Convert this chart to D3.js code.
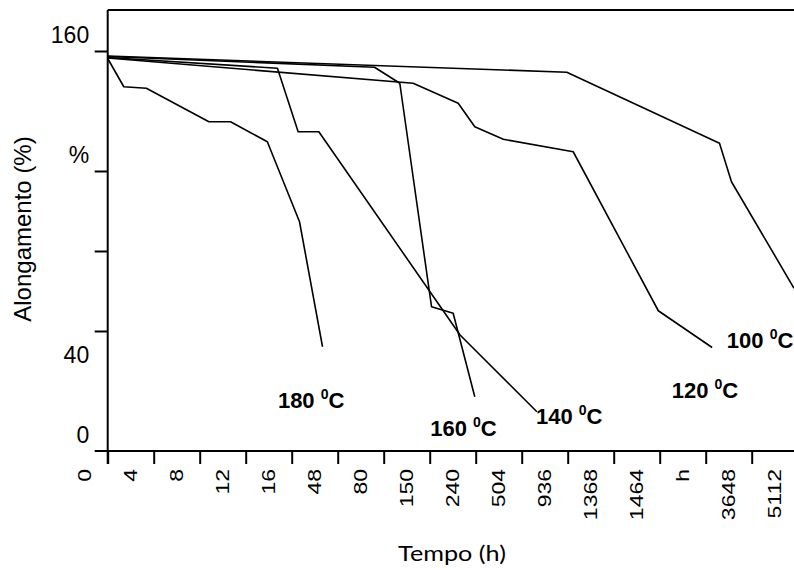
<!DOCTYPE html>
<html>
<head>
<meta charset="utf-8">
<script src="https://cdn.jsdelivr.net/npm/d3@7/dist/d3.min.js"></script>
<style>
body { margin: 0; background: #fff; }
svg { display: block; font-family: "Liberation Sans", Arial, sans-serif; }
</style>
</head>
<body>
<svg id="chart"></svg>
<script>
var width = 794, height = 570;

// categorias do eixo x (tempo, h)
var tempoLabels = ["0", "4", "8", "12", "16", "48", "80", "150", "240", "504", "936", "1368", "1464", "h", "3648", "5112"];

// rotulos do eixo y (como aparecem na figura) e sua posicao em unidades do eixo
var yLabels = ["160", "%", "40", "0"];
var yLabelPos = [166.5, 118.7, 38.5, 6.5];
var yTicks = [48, 80, 112, 160];

// curvas: posicao no eixo de categorias (0 = eixo y) e alongamento
var t180 = [0, 0.35, 0.84, 2.2, 2.67, 3.47, 4.17, 4.67];
var v180 = [157, 145.7, 145.1, 131.7, 131.7, 123.7, 91.7, 41.7];

var t160 = [0, 5.8, 6.35, 7.04, 7.51, 7.98];
var v160 = [157.8, 153.5, 147.1, 57.7, 55.1, 21.7];

var t140 = [0, 3.69, 4.14, 4.59, 7.66, 9.33];
var v140 = [157.4, 153.1, 127.7, 127.7, 46.4, 15.7];

var t120 = [0, 6.64, 7.62, 7.98, 8.6, 10.12, 11.97, 13.14];
var v120 = [157.2, 147.1, 139.1, 129.7, 124.7, 119.7, 56.1, 41.4];

var t100 = [0, 9.98, 13.3, 13.56, 14.92];
var v100 = [158, 151.5, 123.1, 107.7, 65.1];

// nomes das curvas e onde ficam os rotulos
var curveNames = ["180", "160", "140", "120", "100"];
var labelT = [3.7, 7.01, 9.31, 12.26, 13.46];
var labelV = [17.1, 6.1, 10.7, 21.1, 41.1];

var series = [
  { name: "180", t: t180, v: v180 },
  { name: "160", t: t160, v: v160 },
  { name: "140", t: t140, v: v140 },
  { name: "120", t: t120, v: v120 },
  { name: "100", t: t100, v: v100 }
];

var svg = d3.select("#chart")
  .attr("width", width)
  .attr("height", height)
  .style("background", "#fff");

var x = d3.scaleLinear().domain([-1, 15]).range([61.7, 797.7]);
var y = d3.scaleLinear().domain([0, 176.4]).range([451, 10]);

// eixo x - so os tracos
var xAxis = svg.append("g")
  .attr("transform", "translate(0," + y(0) + ")")
  .call(d3.axisBottom(x).tickValues(d3.range(0, 15)).tickSize(13).tickSizeOuter(0).tickFormat(""));
xAxis.select(".domain").remove();
xAxis.selectAll("line").attr("stroke", "#000").attr("stroke-width", 2);

// eixo y
var yAxis = svg.append("g")
  .attr("transform", "translate(" + x(0) + ",0)")
  .call(d3.axisLeft(y).tickValues(yTicks).tickSize(13).tickSizeOuter(0).tickFormat(""));
yAxis.select(".domain").remove();
yAxis.selectAll("line").attr("stroke", "#000").attr("stroke-width", 2);

// linhas dos eixos e moldura de cima
svg.append("line")
  .attr("x1", x(0) - 13).attr("x2", width)
  .attr("y1", y(0)).attr("y2", y(0))
  .attr("stroke", "#000").attr("stroke-width", 2);
svg.append("line")
  .attr("x1", x(0)).attr("x2", x(0))
  .attr("y1", y.range()[1]).attr("y2", y(0) + 13)
  .attr("stroke", "#000").attr("stroke-width", 2);
svg.append("line")
  .attr("x1", x(0)).attr("x2", width)
  .attr("y1", y.range()[1]).attr("y2", y.range()[1])
  .attr("stroke", "#000").attr("stroke-width", 2);

// rotulos y
svg.selectAll("text.ylab")
  .data(yLabels)
  .enter().append("text")
  .attr("class", "ylab")
  .attr("x", x(0) - 18.5)
  .attr("y", function (d, i) { return y(yLabelPos[i]); })
  .attr("dy", "0.36em")
  .attr("text-anchor", "end")
  .style("font-size", "23px")
  .text(function (d) { return d; });

// rotulos x (girados)
svg.selectAll("text.xlab")
  .data(tempoLabels)
  .enter().append("text")
  .attr("class", "xlab")
  .attr("transform", function (d, i) {
    return "translate(" + x(i - 0.5) + "," + 469 + ") rotate(-90) scale(1,0.8)";
  })
  .attr("dy", "0.36em")
  .attr("text-anchor", "end")
  .style("font-size", "23px")
  .text(function (d) { return d; });

// titulos dos eixos
svg.append("text")
  .attr("transform", "translate(452,561) scale(1.2,1)")
  .attr("text-anchor", "middle")
  .style("font-family", "Lato, 'Open Sans', sans-serif")
  .style("font-size", "21px")
  .text("Tempo (h)");

svg.append("text")
  .attr("transform", "translate(31,229) rotate(-90)")
  .attr("text-anchor", "middle")
  .style("font-size", "24px")
  .text("Alongamento (%)");

// curvas
var line = d3.line()
  .x(function (d) { return x(d[0]); })
  .y(function (d) { return y(d[1]); });

svg.selectAll("path.curve")
  .data(series)
  .enter().append("path")
  .attr("class", "curve")
  .attr("fill", "none")
  .attr("stroke", "#000")
  .attr("stroke-width", 1.6)
  .attr("stroke-linejoin", "round")
  .attr("d", function (s) { return line(s.t.map(function (t, i) { return [t, s.v[i]]; })); });

// rotulos das curvas
var lab = svg.selectAll("text.clab")
  .data(curveNames)
  .enter().append("text")
  .attr("class", "clab")
  .attr("x", function (d, i) { return x(labelT[i]); })
  .attr("y", function (d, i) { return y(labelV[i]); })
  .style("font-size", "22px")
  .style("font-weight", "bold");
lab.append("tspan").text(function (d) { return d + " "; });
lab.append("tspan").attr("dy", -9).style("font-size", "14px").text("0");
lab.append("tspan").attr("dy", 9).text("C");
</script>
</body>
</html>
